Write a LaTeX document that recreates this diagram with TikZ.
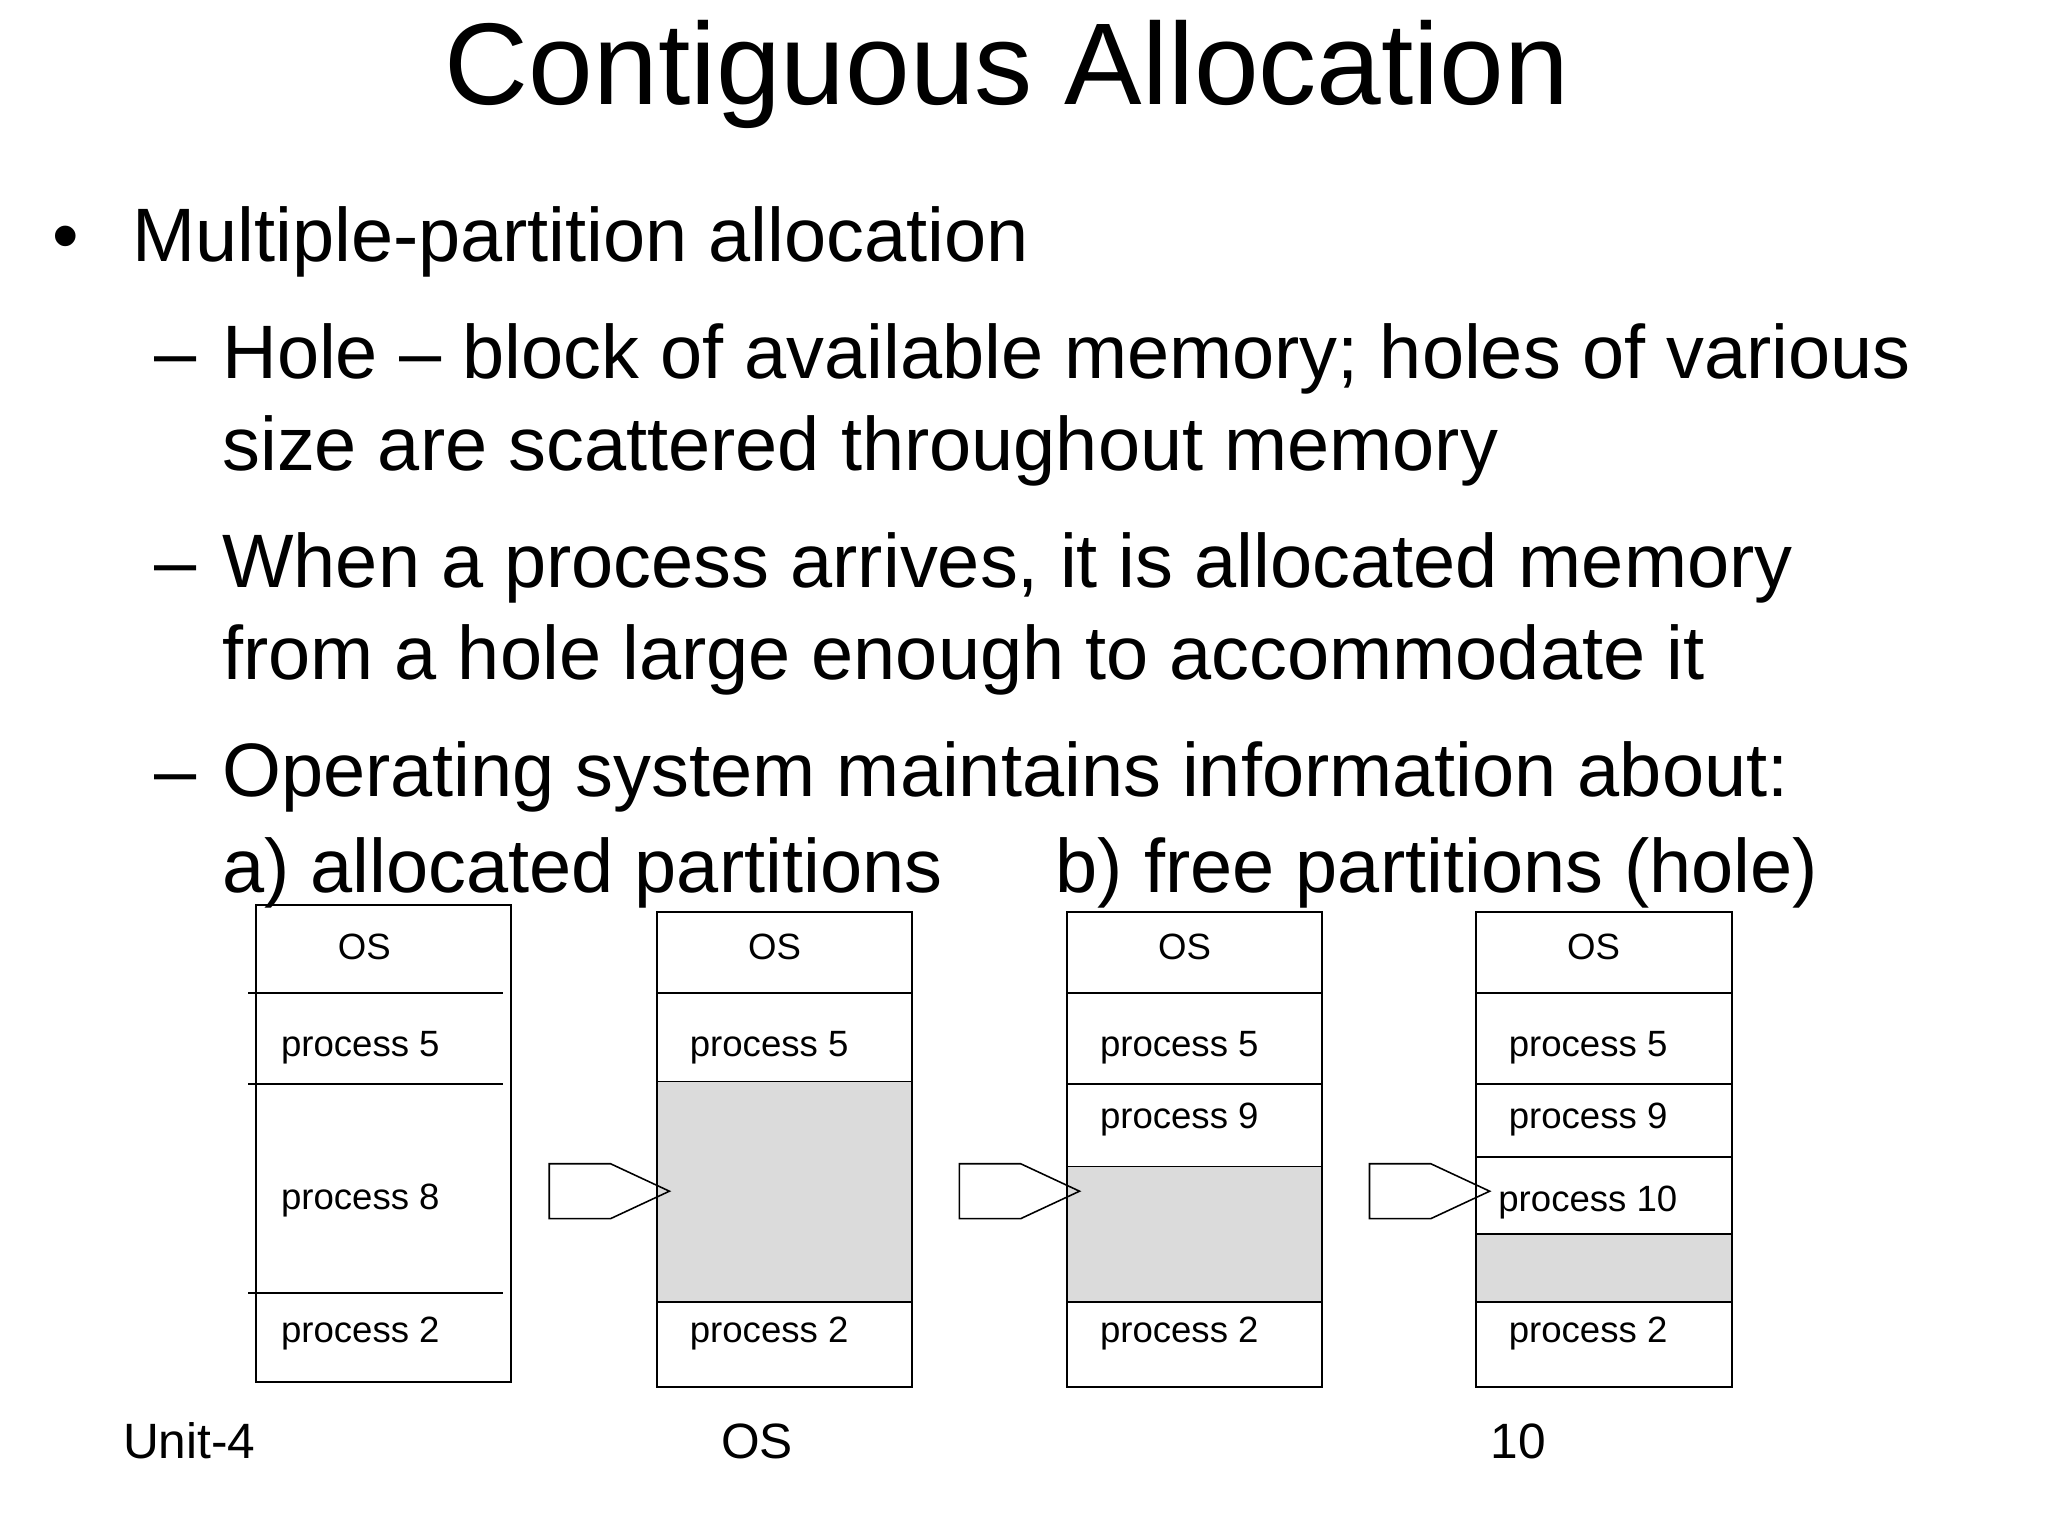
\documentclass[tikz,border=0pt]{standalone}
\usepackage{fontspec}
\setmainfont{Liberation Sans}
\usetikzlibrary{shapes.arrows}
\begin{document}
\begin{tikzpicture}[x=1pt,y=-1pt,
 big/.style={anchor=base west,font=\fontsize{58}{60}\selectfont,inner sep=0},
 lbl/.style={anchor=west,font=\fontsize{28}{30}\selectfont,inner sep=0},
 box/.style={draw,line width=1.3pt},
 hole/.style={fill=black!14},
 arr/.style={single arrow,draw,line width=1.2pt,minimum width=42pt,single arrow head extend=0pt,minimum height=92pt,inner sep=0,single arrow tip angle=50, single arrow head indent=0pt}]
\useasboundingbox (0,0) rectangle (1568,1176);
\node[anchor=base,font=\fontsize{89}{90}\selectfont,inner sep=0] (title) at (771,80) {Contiguous Allocation};
\node[big] (b0) at (40,200) {•};
\node[big] (t1) at (101,200) {Multiple-partition allocation};
\node[big] (d1) at (118,290) {–};
\node[big] (t2) at (170,290) {Hole – block of available memory; holes of various};
\node[big] (t3) at (170,360) {size are scattered throughout memory};
\node[big] (d2) at (118,450) {–};
\node[big] (t4) at (170,450) {When a process arrives, it is allocated memory};
\node[big] (t5) at (170,520) {from a hole large enough to accommodate it};
\node[big] (d3) at (118,610) {–};
\node[big] (t6) at (170,610) {Operating system maintains information about:};
\node[big] (t7) at (170,683) {a) allocated partitions\hspace{0.5em}\quad b) free partitions (hole)};
% column 1
\draw[box] (196,693) rectangle (391,1058);
\draw[box] (190,760) -- (385,760) (190,830) -- (385,830) (190,990) -- (385,990);
\node[lbl,anchor=center] (c1os) at (279,725) {OS};
\node[lbl] (c1p5) at (215,802) {process 5};
\node[lbl] (c1p8) at (215,919) {process 8};
\node[lbl] (c1p2) at (215,1021) {process 2};
% column 2
\fill[hole] (503,828) rectangle (698,997);
\draw[box] (503,698) rectangle (698,1062);
\draw[box] (503,760) -- (698,760) (503,828) -- (698,828) (503,997) -- (698,997);
\node[lbl,anchor=center] (c2os) at (593,725) {OS};
\node[lbl] (c2p5) at (528,802) {process 5};
\node[lbl] (c2p2) at (528,1021) {process 2};
% column 3
\fill[hole] (817,893) rectangle (1012,997);
\draw[box] (817,698) rectangle (1012,1062);
\draw[box] (817,760) -- (1012,760) (817,830) -- (1012,830) (817,893) -- (1012,893) (817,997) -- (1012,997);
\node[lbl,anchor=center] (c3os) at (907,725) {OS};
\node[lbl] (c3p5) at (842,802) {process 5};
\node[lbl] (c3p9) at (842,857) {process 9};
\node[lbl] (c3p2) at (842,1021) {process 2};
% column 4
\fill[hole] (1130,945) rectangle (1326,997);
\draw[box] (1130,698) rectangle (1326,1062);
\draw[box] (1130,760) -- (1326,760) (1130,830) -- (1326,830) (1130,886) -- (1326,886) (1130,945) -- (1326,945) (1130,997) -- (1326,997);
\node[lbl,anchor=center] (c4os) at (1220,725) {OS};
\node[lbl] (c4p5) at (1155,802) {process 5};
\node[lbl] (c4p9) at (1155,857) {process 9};
\node[lbl] (c4p10) at (1147,921) {process 10};
\node[lbl] (c4p2) at (1155,1021) {process 2};
% arrows
\node[arr] (a1) at (444,912) {};
\node[arr] (a2) at (758,912) {};
\node[arr] (a3) at (1072,912) {};
% footer
\node[anchor=base west,font=\fontsize{38}{40}\selectfont,inner sep=0] (f1) at (94,1117) {Unit-4};
\node[anchor=base west,font=\fontsize{38}{40}\selectfont,inner sep=0] (f2) at (552,1117) {OS};
\node[anchor=base west,font=\fontsize{38}{40}\selectfont,inner sep=0] (f3) at (1141,1117) {10};
\end{tikzpicture}
\end{document}
